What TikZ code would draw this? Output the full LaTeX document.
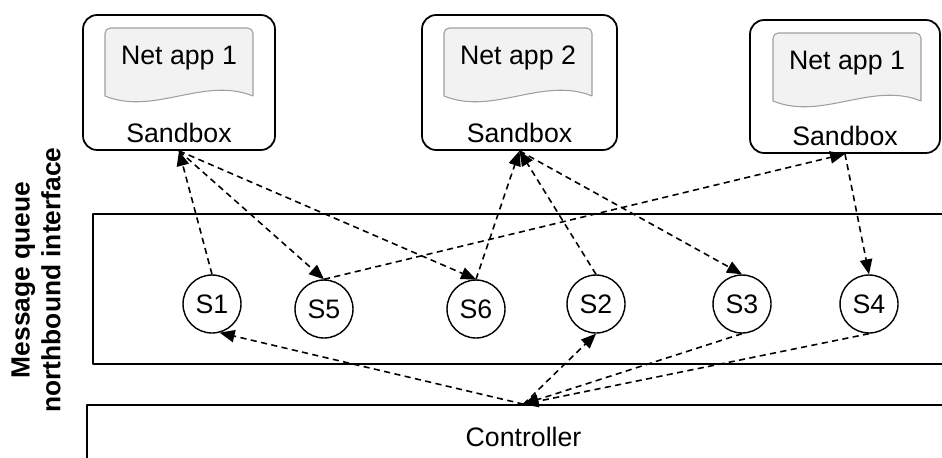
\documentclass[tikz,border=0pt]{standalone}
\usepackage{fontspec}
\setmainfont{Liberation Sans}
\usetikzlibrary{arrows.meta,positioning}

\tikzset{
  sandbox/.style={draw, line width=1pt, rounded corners=8pt},
  bar/.style={draw, line width=1pt, inner sep=0pt},
  swnode/.style={draw, circle, line width=0.8pt, minimum size=1.16cm, inner sep=0pt},
  msg/.style={line width=0.9pt, dash pattern=on 3.5pt off 2.5pt, -{Triangle[length=8.5pt,width=7pt]}},
  netapp/.pic={
    % document shape with a wavy bottom
    \filldraw[draw=gray!75, fill=gray!10, line width=0.6pt]
      (-74,33) [rounded corners=3pt] -- (-74,-35) -- (74,-35) [sharp corners] -- (74,33)
      .. controls (25,13) and (-25,53) .. cycle;
    \node (-txt) at (0,-5) {#1};
  }
}

\begin{document}
\begin{tikzpicture}[x=0.02cm, y=-0.02cm, font=\fontsize{15.2}{18}\selectfont, line join=round]
  \useasboundingbox (0,0) rectangle (942,457);
  \clip (0,0) rectangle (942,457);

  % message queue and controller
  \node[bar, minimum width=17.4cm, minimum height=3cm] (mq) at (528,289) {};
  \node[bar, minimum width=17.46cm, minimum height=1.28cm] (ctl) at (523.5,437) {Controller};
  \node[rotate=90, align=center, font=\fontsize{15}{17.5}\selectfont\bfseries] (mqlabel) at (36,280)
    {Message queue\\northbound interface};

  % sandboxes with their net apps
  \node[sandbox, minimum width=3.84cm, minimum height=2.7cm] (sb1) at (179,82.5) {};
  \node[sandbox, minimum width=3.9cm, minimum height=2.7cm] (sb2) at (519.5,82.5) {};
  \node[sandbox, minimum width=3.8cm, minimum height=2.66cm] (sb3) at (845,86.5) {};
  \pic (app1) at (179,63) {netapp={Net app 1}};
  \pic (app2) at (518,63) {netapp={Net app 2}};
  \pic (app3) at (847,68) {netapp={Net app 1}};
  \node[above=1pt of sb1.south] (sb1lbl) {Sandbox};
  \node[above=1pt of sb2.south] (sb2lbl) {Sandbox};
  \node[above=1pt of sb3.south] (sb3lbl) {Sandbox};

  % switches
  \node[swnode] (s1) at (212,304) {S1};
  \node[swnode] (s5) at (324,309) {S5};
  \node[swnode] (s6) at (476,309) {S6};
  \node[swnode] (s2) at (596,304) {S2};
  \node[swnode] (s3) at (742,304) {S3};
  \node[swnode] (s4) at (869,304) {S4};

  % messages between switches and sandboxes
  \draw[msg] (s1.north) -- (sb1.south);
  \draw[msg] (sb1.south) -- (s5.north);
  \draw[msg] (sb1.south) -- (s6.north);
  \draw[msg] (s5.north) -- (sb3.south);
  \draw[msg] (s6.north) -- (sb2.south);
  \draw[msg] (s2.north) -- (sb2.south);
  \draw[msg] (sb2.south) -- (s3.north);
  \draw[msg] (sb3.south) -- (s4.north);

  % messages between switches and controller
  \draw[msg] (ctl.north) -- (s1.-75);
  \draw[msg] (ctl.north) -- (s2.south);
  \draw[msg] (s3.south) -- (ctl.north);
  \draw[msg] (s4.south) -- (ctl.north);
\end{tikzpicture}
\end{document}
